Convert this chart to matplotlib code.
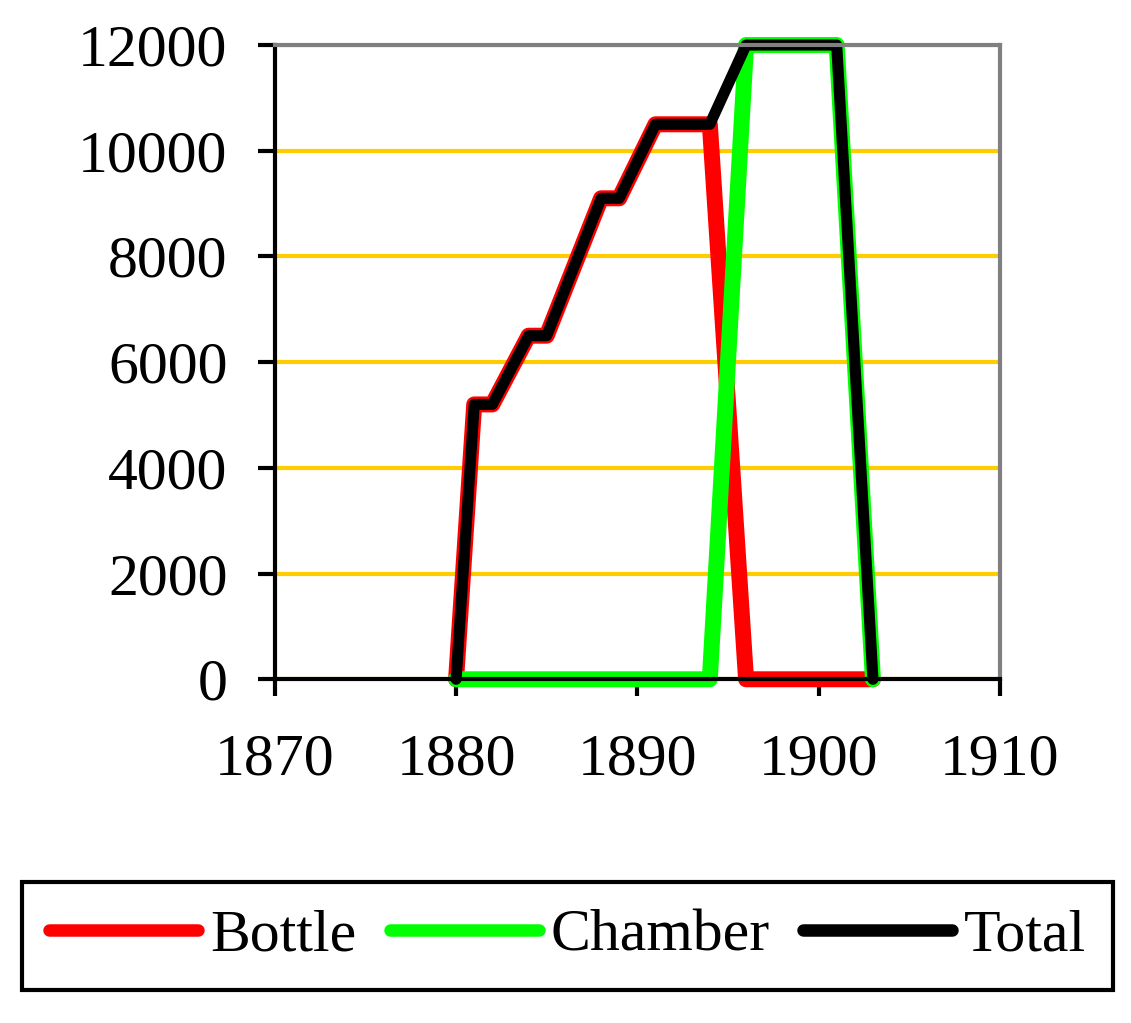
import matplotlib.pyplot as plt

years = [1880, 1881, 1882, 1884, 1885, 1888, 1889, 1891, 1894, 1896, 1901, 1903]
bottle = [0, 5200, 5200, 6500, 6500, 9100, 9100, 10500, 10500, 0, 0, 0]
chamber = [0, 0, 0, 0, 0, 0, 0, 0, 0, 12000, 12000, 0]
total = [b + c for b, c in zip(bottle, chamber)]

plt.rcParams['font.family'] = 'Liberation Serif'

fig = plt.figure(figsize=(11.31, 10.23), dpi=100)
ax = fig.add_axes([0.243, 0.336, 0.641, 0.62])

ax.yaxis.grid(True, color='#FFCC00', linewidth=3)
ax.set_axisbelow(True)

ax.plot(years, bottle, color='#FF0000', lw=11.5, solid_capstyle='round',
        solid_joinstyle='round', label='Bottle')
ax.plot(years, chamber, color='#00FF00', lw=11.5, solid_capstyle='round',
        solid_joinstyle='round', label='Chamber')
ax.plot(years, total, color='black', lw=8, solid_capstyle='round',
        solid_joinstyle='round', label='Total')

ax.set_xlim(1870, 1910)
ax.set_ylim(0, 12000)
ax.set_xticks([1870, 1880, 1890, 1900, 1910])
ax.set_yticks(range(0, 12001, 2000))
ax.tick_params(labelsize=43, length=12, width=3, direction='out')
ax.tick_params(axis='y', pad=22)
ax.tick_params(axis='x', pad=27)

for s in ['top', 'right']:
    ax.spines[s].set_color('#808080')
    ax.spines[s].set_linewidth(3)
for s in ['left', 'bottom']:
    ax.spines[s].set_color('black')
    ax.spines[s].set_linewidth(3)
for line in ax.get_lines():
    line.set_clip_on(False)

leg = fig.legend(loc='center', bbox_to_anchor=(0.502, 0.085), ncol=3,
                 fontsize=43, frameon=True, fancybox=False, framealpha=1,
                 handlelength=2.5, handletextpad=0.2, columnspacing=0.55,
                 borderpad=0.45, borderaxespad=0)
leg.get_frame().set_edgecolor('black')
leg.get_frame().set_linewidth(3)
for h in leg.get_lines():
    h.set_linewidth(9)
    h.set_solid_capstyle('round')

fig.savefig('out.png')
